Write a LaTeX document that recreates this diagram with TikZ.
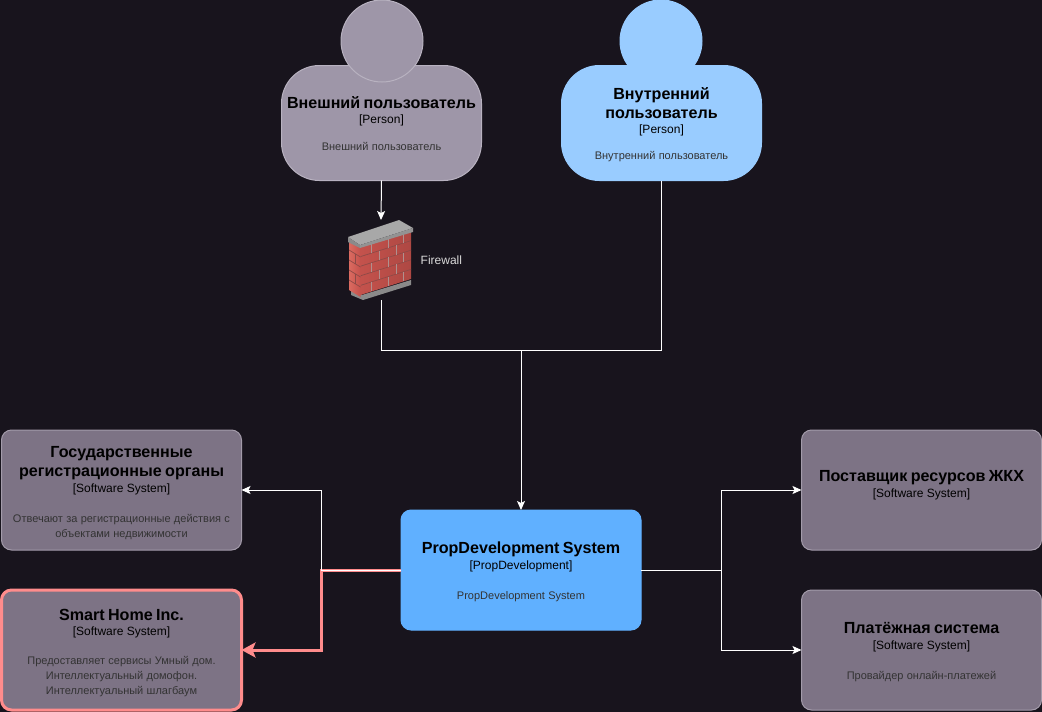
\documentclass[tikz,border=0pt]{standalone}
\usepackage{fontspec}
\setmainfont{Liberation Sans}
\usetikzlibrary{arrows.meta}
\definecolor{bgc}{HTML}{18141D}
\definecolor{extc}{HTML}{9E96A8}
\definecolor{extl}{HTML}{B8B2C0}
\definecolor{intc}{HTML}{99CCFF}
\definecolor{sysc}{HTML}{7D7385}
\definecolor{sysl}{HTML}{A39BAA}
\definecolor{mainc}{HTML}{60B0FF}
\definecolor{redc}{HTML}{FF8C8C}
\definecolor{descc}{HTML}{333333}
\definecolor{brickl}{HTML}{DB6A60}
\definecolor{brickm}{HTML}{C4524C}
\definecolor{brickd}{HTML}{AE4843}
\definecolor{mortar}{HTML}{8E4A47}
\definecolor{joint}{HTML}{B0908E}
\definecolor{capc}{HTML}{A8A8A8}
\definecolor{capd}{HTML}{8A8A8A}
\newcommand{\boxtext}[5][4pt]{{\fontsize{16.1}{19}\selectfont\bfseries #3\par}{\fontsize{12}{15.5}\selectfont #4\par}\vspace{#2}{\fontsize{11}{15}\selectfont\color{descc} #5\par}\vspace{-#1}}
\tikzset{
  x=1pt,y=-1pt,
  c4box/.style={rectangle,rounded corners=10pt,draw=sysl,fill=sysc,line width=1pt,minimum width=240pt,minimum height=120pt,inner sep=0pt,outer sep=0pt,text width=232pt,align=center,text=black},
  personbody/.style={c4box,rounded corners=38pt,minimum width=200pt,minimum height=115pt,text width=194pt},
  head/.style={circle,minimum size=82pt,inner sep=0pt,outer sep=0pt,line width=1pt},
  conn/.style={draw=white,line width=1pt},
  arr/.style={conn,-{Stealth[length=9pt,width=8pt,inset=2pt]}},
  redarr/.style={draw=redc,line width=3pt,-{Stealth[length=14pt,width=15pt,inset=3pt]}},
}
\begin{document}
\begin{tikzpicture}
\useasboundingbox[fill=bgc] (0,0) rectangle (1042,712);
% persons
\node[personbody,draw=extl,fill=extc] (ext) at (381.5,123) {\boxtext[1pt]{12pt}{Внешний пользователь}{[Person]}{Внешний пользователь}};
\node[head,draw=extl,fill=extc] (exthead) at (382,41) {};
\node[personbody,draw=intc,fill=intc] (int) at (661.5,123) {\boxtext[3pt]{11pt}{Внутренний\\пользователь}{[Person]}{Внутренний пользователь}};
\node[head,draw=intc,fill=intc] (inthead) at (661,41) {};
% firewall
\node[rectangle,minimum width=66pt,minimum height=80pt,inner sep=0pt,outer sep=0pt] (fw) at (381,260) {};
\fill[capd] (351,288) -- (362,295) -- (411,280) -- (411,285) -- (363,300) -- (351,295) -- cycle;
\begin{scope}[shift={(360.5,247)},x={(50.5pt,16pt)},y={(0pt,-48pt)}]
  \shade[left color=brickm,right color=brickd] (0,0) -- (1,0) -- (1,1) -- (0,1) -- cycle;
  \foreach \v in {0.2,0.4,0.6,0.8} \draw[mortar,line width=0.7pt] (0,\v) -- (1,\v);
  \foreach \u/\a in {0.22/0,0.55/0,0.85/0,0.38/0.2,0.72/0.2,0.22/0.4,0.55/0.4,0.85/0.4,0.38/0.6,0.72/0.6,0.22/0.8,0.55/0.8,0.85/0.8}
    \draw[joint,line width=0.9pt] (\u,\a) -- (\u,\a+0.2);
\end{scope}
\begin{scope}[shift={(349,240)},x={(11.5pt,-7pt)},y={(0pt,-50pt)}]
  \shade[left color=brickl,right color=brickm] (0,0) -- (1,0) -- (1,1) -- (0,1) -- cycle;
  \foreach \v in {0.2,0.4,0.6,0.8} \draw[mortar,line width=0.7pt] (0,\v) -- (1,\v);
  \foreach \a in {0.2,0.6} \draw[mortar,line width=0.7pt] (0.55,\a) -- (0.55,\a+0.2);
\end{scope}
\fill[capc] (348,237) -- (399,220) -- (413,228) -- (360,245) -- cycle;
\fill[capd] (348,237) -- (360,245) -- (360,248) -- (348,242) -- cycle;
\fill[gray!85!white] (360,245) -- (413,228) -- (413,232) -- (360,248) -- cycle;
\node[anchor=west,inner sep=0pt,text=white!85!black,font=\fontsize{12}{14}\selectfont] (fwlabel) at (420.5,260) {Firewall};
% systems
\node[c4box,fill=mainc,draw=mainc] (main) at (521,570) {\boxtext{15pt}{PropDevelopment System}{[PropDevelopment]}{PropDevelopment System}};
\node[c4box] (gov) at (121.5,490) {\boxtext[6pt]{15pt}{Государственные\\регистрационные органы}{[Software System]}{Отвечают за регистрационные действия с\\объектами недвижимости}};
\node[c4box,draw=redc,line width=3pt] (smart) at (121.5,650) {\boxtext[6pt]{14pt}{Smart Home Inc.}{[Software System]}{Предоставляет сервисы Умный дом.\\Интеллектуальный домофон.\\Интеллектуальный шлагбаум}};
\node[c4box] (util) at (921.5,490) {\boxtext[5.5pt]{15pt}{Поставщик ресурсов ЖКХ}{[Software System]}{}};
\node[c4box] (pay) at (921.5,650) {\boxtext{15pt}{Платёжная система}{[Software System]}{Провайдер онлайн-платежей}};
% junctions
\coordinate (topbus) at (521,350);
\coordinate (lbus) at (321,570);
\coordinate (rbus) at (721,570);
% connectors
\draw[arr] (ext.south) -- (fw.north);
\draw[conn] (fw.south) |- (topbus);
\draw[conn] (int.south) |- (topbus);
\draw[arr] (topbus) -- (main.north);
\draw[redarr] (main.west) -- (lbus) |- (smart.east);
\draw[conn] (main.west) -- (lbus);
\draw[arr] (lbus) |- (gov.east);
\draw[conn] (main.east) -- (rbus);
\draw[arr] (rbus) |- (util.west);
\draw[arr] (rbus) |- (pay.west);
\end{tikzpicture}
\end{document}
